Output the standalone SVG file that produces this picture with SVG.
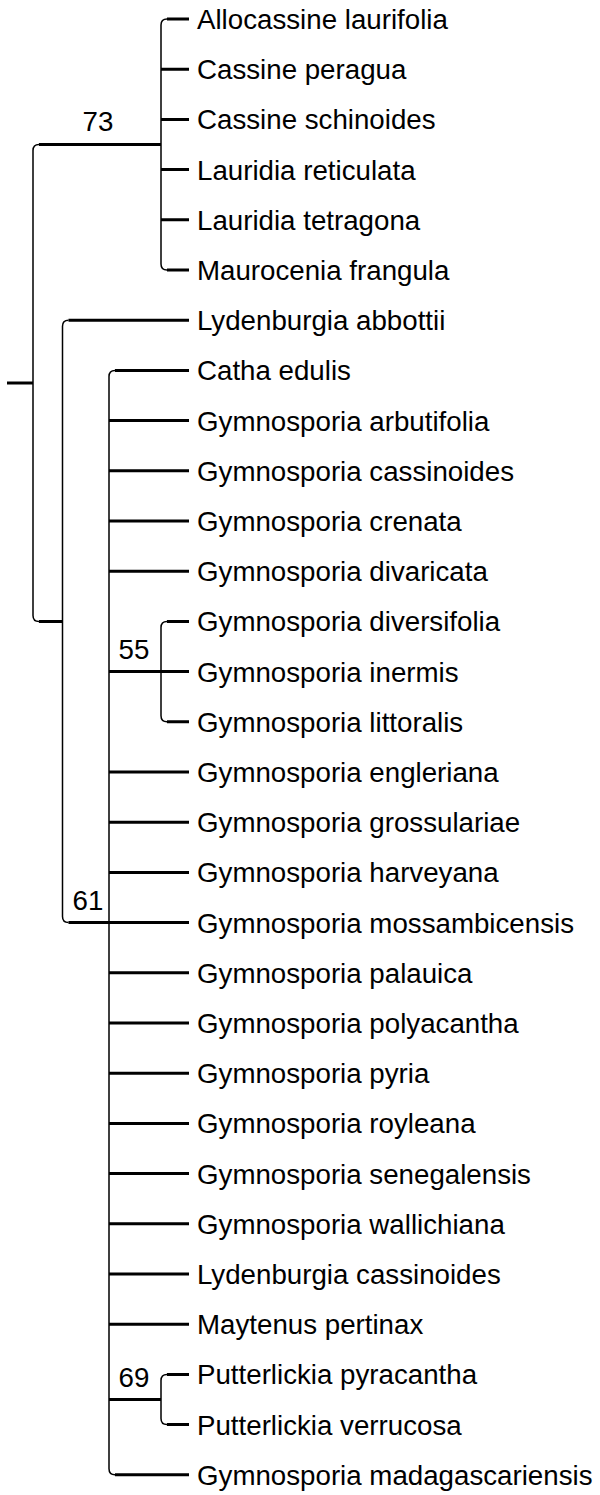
<svg xmlns="http://www.w3.org/2000/svg" width="600" height="1495" viewBox="0 0 600 1495">
<style>
.v{fill:none;stroke:#000;stroke-width:1.5}
.h{fill:none;stroke:#000;stroke-width:3}
text{font-family:"Liberation Sans",Arial,sans-serif;font-size:27.7px;fill:#000}
.lbl{text-anchor:middle}
</style>
<rect width="600" height="1495" fill="#fff"/>
<g id="connectors">
<path class="h" d="M7,383 H33"/>
<path class="v" d="M39,144.5 Q33,144.5 33,150.5 V615.4 Q33,621.4 39,621.4"/>
<path class="h" d="M39,144.5 H161 M39,621.4 H62.5"/>
<path class="v" d="M167,19 Q161,19 161,25 V264 Q161,270 167,270"/>
<path class="h" d="M167,19 H189 M161,69.2 H189 M161,119.4 H189 M161,169.6 H189 M161,219.8 H189 M167,270 H189"/>
<path class="v" d="M68.5,320.2 Q62.5,320.2 62.5,326.2 V916.6 Q62.5,922.6 68.5,922.6"/>
<path class="h" d="M68.5,320.2 H189 M68.5,922.6 H109"/>
<path class="v" d="M115,370.4 Q109,370.4 109,376.4 V1468.8 Q109,1474.8 115,1474.8"/>
<path class="h" d="M115,370.4 H189 M109,420.6 H189 M109,470.8 H189 M109,521 H189 M109,571.2 H189 M109,671.6 H161 M109,772 H189 M109,822.2 H189 M109,872.4 H189 M109,922.6 H189 M109,972.8 H189 M109,1023 H189 M109,1073.2 H189 M109,1123.4 H189 M109,1173.6 H189 M109,1223.8 H189 M109,1274 H189 M109,1324.2 H189 M109,1399.5 H161 M115,1474.8 H189"/>
<path class="v" d="M167,621.4 Q161,621.4 161,627.4 V715.8 Q161,721.8 167,721.8"/>
<path class="h" d="M167,621.4 H189 M161,671.6 H189 M167,721.8 H189"/>
<path class="v" d="M167,1374.4 Q161,1374.4 161,1380.4 V1418.6 Q161,1424.6 167,1424.6"/>
<path class="h" d="M167,1374.4 H189 M167,1424.6 H189"/>
</g>
<g id="support-labels">
<text class="lbl" x="98" y="131">73</text>
<text class="lbl" x="88" y="910">61</text>
<text class="lbl" x="134" y="659">55</text>
<text class="lbl" x="134" y="1387">69</text>
</g>
<g id="leaf-1"><text x="197" y="29">Allocassine laurifolia</text></g>
<g id="leaf-2"><text x="197" y="79.2">Cassine peragua</text></g>
<g id="leaf-3"><text x="197" y="129.4">Cassine schinoides</text></g>
<g id="leaf-4"><text x="197" y="179.6">Lauridia reticulata</text></g>
<g id="leaf-5"><text x="197" y="229.8">Lauridia tetragona</text></g>
<g id="leaf-6"><text x="197" y="280">Maurocenia frangula</text></g>
<g id="leaf-7"><text x="197" y="330.2">Lydenburgia abbottii</text></g>
<g id="leaf-8"><text x="197" y="380.4">Catha edulis</text></g>
<g id="leaf-9"><text x="197" y="430.6">Gymnosporia arbutifolia</text></g>
<g id="leaf-10"><text x="197" y="480.8">Gymnosporia cassinoides</text></g>
<g id="leaf-11"><text x="197" y="531">Gymnosporia crenata</text></g>
<g id="leaf-12"><text x="197" y="581.2">Gymnosporia divaricata</text></g>
<g id="leaf-13"><text x="197" y="631.4">Gymnosporia diversifolia</text></g>
<g id="leaf-14"><text x="197" y="681.6">Gymnosporia inermis</text></g>
<g id="leaf-15"><text x="197" y="731.8">Gymnosporia littoralis</text></g>
<g id="leaf-16"><text x="197" y="782">Gymnosporia engleriana</text></g>
<g id="leaf-17"><text x="197" y="832.2">Gymnosporia grossulariae</text></g>
<g id="leaf-18"><text x="197" y="882.4">Gymnosporia harveyana</text></g>
<g id="leaf-19"><text x="197" y="932.6">Gymnosporia mossambicensis</text></g>
<g id="leaf-20"><text x="197" y="982.8">Gymnosporia palauica</text></g>
<g id="leaf-21"><text x="197" y="1033">Gymnosporia polyacantha</text></g>
<g id="leaf-22"><text x="197" y="1083.2">Gymnosporia pyria</text></g>
<g id="leaf-23"><text x="197" y="1133.4">Gymnosporia royleana</text></g>
<g id="leaf-24"><text x="197" y="1183.6">Gymnosporia senegalensis</text></g>
<g id="leaf-25"><text x="197" y="1233.8">Gymnosporia wallichiana</text></g>
<g id="leaf-26"><text x="197" y="1284">Lydenburgia cassinoides</text></g>
<g id="leaf-27"><text x="197" y="1334.2">Maytenus pertinax</text></g>
<g id="leaf-28"><text x="197" y="1384.4">Putterlickia pyracantha</text></g>
<g id="leaf-29"><text x="197" y="1434.6">Putterlickia verrucosa</text></g>
<g id="leaf-30"><text x="197" y="1484.8">Gymnosporia madagascariensis</text></g>
</svg>
